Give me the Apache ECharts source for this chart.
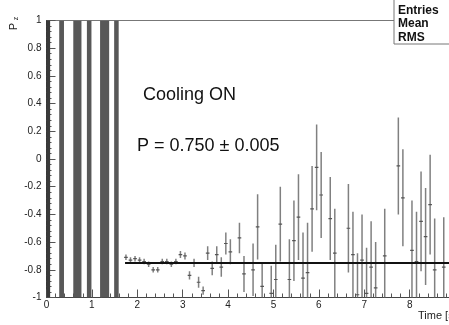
<!DOCTYPE html>
<html><head><meta charset="utf-8">
<script src="https://cdn.jsdelivr.net/npm/echarts@6/dist/echarts.min.js"></script>
<style>html,body{margin:0;padding:0;background:#fff}#c{width:449px;height:325px}</style>
</head><body><div id="c"></div>
<script>
// Dense stripes (bins with huge errors) : start/end in seconds
const stripeStart = [0, 0.28, 0.59, 0.89, 1.18, 1.49];
const stripeEnd   = [0.08, 0.385, 0.77, 0.99, 1.38, 1.59];
// Measured points
const timeX = [1.75,1.85,1.95,2.05,2.15,2.25,2.35,2.45,2.55,2.65,2.75,2.85,2.95,3.05,
  3.15,3.25,3.35,3.45,3.55,3.65,3.75,3.85,3.95,4.05,4.25,4.35,4.55,4.65,4.75,4.95,5.05,5.15,
  5.35,5.45,5.55,5.65,5.75,5.85,5.95,6.05,6.25,6.35,6.65,6.75,6.85,6.95,7.05,7.15,7.25,7.45,
  7.75,7.85,8.05,8.15,8.25,8.35,8.45,8.55,8.75];
const polY = [-0.71,-0.73,-0.72,-0.73,-0.74,-0.76,-0.80,-0.80,-0.74,-0.74,-0.76,-0.74,-0.69,-0.70,
  -0.84,-0.75,-0.89,-0.95,-0.68,-0.79,-0.69,-0.78,-0.61,-0.67,-0.57,-0.83,-0.80,-0.49,-0.92,-0.97,-0.87,-0.47,
  -0.87,-0.59,-0.42,-0.86,-0.82,-0.36,-0.06,-0.26,-0.43,-0.68,-0.50,-0.69,-0.98,-0.73,-0.97,-0.78,-0.93,-0.70,
  -0.05,-0.28,-0.66,-0.74,-0.45,-0.56,-0.33,-0.80,-0.78];
const polErr = [0.02,0.02,0.02,0.02,0.02,0.02,0.02,0.02,0.02,0.02,0.02,0.02,0.025,0.025,
  0.03,0.03,0.04,0.03,0.05,0.05,0.06,0.07,0.08,0.09,0.11,0.13,0.19,0.235,0.17,0.2,0.25,0.27,
  0.29,0.29,0.31,0.33,0.36,0.31,0.31,0.31,0.30,0.32,0.32,0.31,0.30,0.33,0.33,0.33,0.33,0.34,
  0.35,0.35,0.36,0.36,0.36,0.35,0.36,0.37,0.36];
const binHalf = 0.04;
// Fit
const fitX = [1.73, 10];
const fitP = -0.75;
const statLabels = ['Entries', 'Mean', 'RMS'];

const FONT = '"Liberation Sans", Arial, Helvetica, sans-serif';
const chart = echarts.init(document.getElementById('c'), null, {renderer: 'canvas'});

const stripeData = stripeStart.map((s, i) => [s, stripeEnd[i]]);
const pointData = timeX.map((x, i) => [x, polY[i], polErr[i]]);

const graphics = [
  {type: 'rect', z: 100, shape: {x: 394, y: -2, width: 70, height: 46},
   style: {fill: '#fff', stroke: '#777', lineWidth: 1}},
  {type: 'text', z: 101, x: 13.5, y: 26.5, rotation: Math.PI / 2,
   style: {text: 'P', font: '11px ' + FONT, fill: '#222', textAlign: 'center', textVerticalAlign: 'middle'}},
  {type: 'text', z: 101, x: 16, y: 18.5, rotation: Math.PI / 2,
   style: {text: 'z', font: '7px ' + FONT, fill: '#222', textAlign: 'center', textVerticalAlign: 'middle'}},
  {type: 'text', z: 101, x: 143, y: 95,
   style: {text: 'Cooling ON', font: '18px ' + FONT, fill: '#111', textAlign: 'left', textVerticalAlign: 'middle'}},
  {type: 'text', z: 101, x: 137, y: 146,
   style: {text: 'P = 0.750 \u00b1 0.005', font: '18px ' + FONT, fill: '#111', textAlign: 'left', textVerticalAlign: 'middle'}},
  {type: 'text', z: 101, x: 418, y: 316,
   style: {text: 'Time [s]', font: '11px ' + FONT, fill: '#222', textAlign: 'left', textVerticalAlign: 'middle'}}
];
statLabels.forEach((t, i) => graphics.push({
  type: 'text', z: 101, x: 398, y: 10.5 + i * 13.5,
  style: {text: t, font: 'bold 12px ' + FONT, fill: '#111', textAlign: 'left', textVerticalAlign: 'middle'}
}));

chart.setOption({
  animation: false,
  backgroundColor: '#fff',
  grid: {left: 46.5, top: 20.5, width: 454, height: 277, show: true, borderColor: '#777', borderWidth: 1,
         containLabel: false, outerBoundsMode: 'none'},
  xAxis: {
    type: 'value', min: 0, max: 10, interval: 1,
    axisLine: {show: true, onZero: false, lineStyle: {color: '#444', width: 1}},
    axisTick: {show: true, inside: true, length: 8, lineStyle: {color: '#555'}},
    minorTick: {show: true, splitNumber: 5, length: 4, lineStyle: {color: '#555'}},
    axisLabel: {fontSize: 10, color: '#222', margin: 3, fontFamily: FONT},
    splitLine: {show: false}, minorSplitLine: {show: false}
  },
  yAxis: {
    type: 'value', min: -1, max: 1, interval: 0.2,
    axisLine: {show: true, onZero: false, lineStyle: {color: '#333', width: 1}},
    axisTick: {show: true, inside: true, length: 9, lineStyle: {color: '#555'}},
    minorTick: {show: true, splitNumber: 5, length: 5, lineStyle: {color: '#555'}},
    axisLabel: {fontSize: 10, color: '#222', margin: 5, fontFamily: FONT},
    splitLine: {show: false}, minorSplitLine: {show: false}
  },
  graphic: graphics,
  series: [
    {
      type: 'custom', data: stripeData, clip: true,
      encode: {x: [0, 1]},
      renderItem: function (params, api) {
        const p0 = api.coord([api.value(0), 1]);
        const p1 = api.coord([api.value(1), -1]);
        return {type: 'rect', shape: {x: p0[0], y: p0[1], width: p1[0] - p0[0], height: p1[1] - p0[1]},
                style: {fill: api.value(0) === 0 ? '#3a3a3a' : '#585858'}};
      }
    },
    {
      type: 'custom', data: pointData, clip: true,
      encode: {x: 0, y: 1},
      renderItem: function (params, api) {
        const x = api.value(0), y = api.value(1), e = api.value(2);
        const lo = Math.max(-1, y - e), hi = Math.min(1, y + e);
        const a = api.coord([x, lo]), b = api.coord([x, hi]);
        const c0 = api.coord([x - binHalf, y]), c1 = api.coord([x + binHalf, y]);
        return {type: 'group', children: [
          {type: 'line', shape: {x1: a[0], y1: a[1], x2: b[0], y2: b[1]}, style: {stroke: '#808080', lineWidth: 1.5}},
          {type: 'line', shape: {x1: c0[0], y1: c0[1], x2: c1[0], y2: c1[1]}, style: {stroke: '#555', lineWidth: 1.2}}
        ]};
      }
    },
    {
      type: 'line', data: fitX.map(x => [x, fitP]), showSymbol: false, symbol: 'none',
      lineStyle: {color: '#111', width: 2}, z: 5
    }
  ]
});
</script></body></html>
